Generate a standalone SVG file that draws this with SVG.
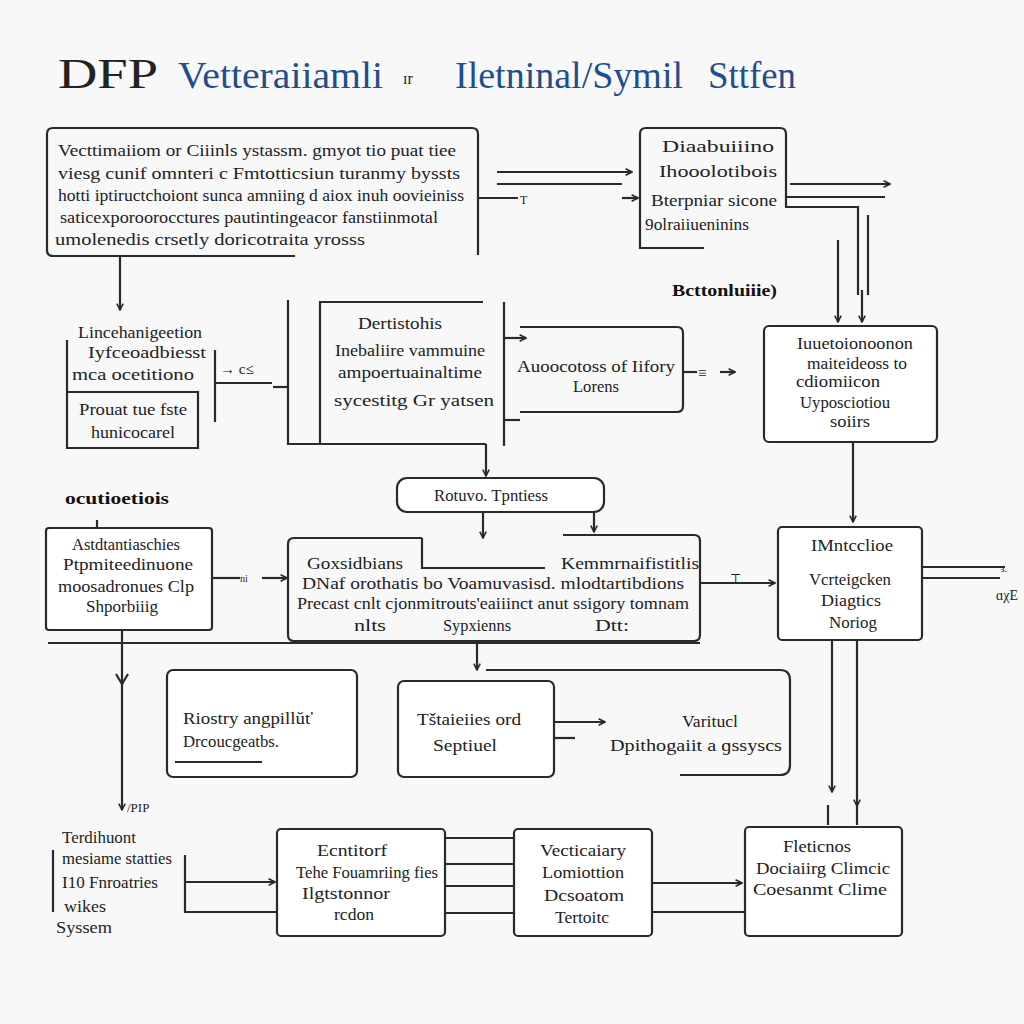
<svg xmlns="http://www.w3.org/2000/svg" width="1024" height="1024" viewBox="0 0 1024 1024">
<defs>
<marker id="ah" viewBox="0 0 10 10" refX="9" refY="5" markerWidth="8" markerHeight="8" orient="auto-start-reverse" markerUnits="userSpaceOnUse">
<path d="M1,1 L9,5 L1,9" fill="none" stroke="#2a2a2a" stroke-width="2"/>
</marker>
<style>
.b{fill:#fff;stroke:#2a2a2a;stroke-width:2.2}
.l{fill:none;stroke:#2a2a2a;stroke-width:2.2}
.a{fill:none;stroke:#2a2a2a;stroke-width:2.2;marker-end:url(#ah)}
.t{font-family:"Liberation Serif","DejaVu Serif",serif;font-size:16px;fill:#222}
.c{text-anchor:middle}
.h{font-family:"Liberation Serif","DejaVu Serif",serif;font-size:17px;font-weight:bold;fill:#111}
.ti{font-family:"Liberation Serif","DejaVu Serif",serif;font-size:38px;fill:#1f4e8c}
</style>
</defs>
<rect width="1024" height="1024" fill="#f8f8f8"/>
<g id="title">
<text x="58" y="88" class="ti" style="fill:#222;font-size:42px" textLength="100" lengthAdjust="spacingAndGlyphs">DFP</text>
<text x="178" y="88" class="ti" textLength="205" lengthAdjust="spacingAndGlyphs">Vetteraiiamli</text>
<text x="403" y="84" class="ti" style="fill:#222;font-size:16px">ɪr</text>
<text x="455" y="88" class="ti" textLength="228" lengthAdjust="spacingAndGlyphs">Iletninal/Symil</text>
<text x="708" y="88" class="ti" textLength="88" lengthAdjust="spacingAndGlyphs">Sttfen</text>
</g>
<g id="connectors">
<path class="a" d="M497,172 H632"/>
<path class="l" d="M497,184 H622"/>
<path class="l" d="M478,198 H518"/>
<path class="a" d="M622,198 H638"/>
<path class="a" d="M790,184 H890"/>
<path class="l" d="M785,197 H885"/>
<path class="l" d="M785,207 H858 V295"/>
<path class="l" d="M868,215 V295"/>
<path class="a" d="M838,240 V322"/>
<path class="a" d="M862,290 V322"/>
<path class="a" d="M120,256 V310"/>
<path class="l" d="M215,350 V422"/>
<path class="l" d="M215,383 H272"/>
<path class="l" d="M273,387 H288"/>
<path class="l" d="M288,300 V444 H486"/>
<path class="a" d="M486,444 V476"/>
<path class="l" d="M504,302 V446"/>
<path class="a" d="M504,338 H526"/>
<path class="l" d="M504,420 H520"/>
<path class="l" d="M683,372 H697"/>
<path class="a" d="M720,372 H735"/>
<path class="a" d="M853,442 V522"/>
<path class="a" d="M483,512 V538"/>
<path class="a" d="M594,512 V532"/>
<path class="l" d="M97,520 V528"/>
<path class="l" d="M212,578 H240"/>
<path class="a" d="M262,578 H287"/>
<path class="a" d="M700,583 H775"/>
<path class="l" d="M922,567 H1005"/>
<path class="l" d="M922,578 H1000"/>
<path class="l" d="M48,643 H700"/>
<path class="a" d="M122,630 V810"/>
<path class="l" d="M116,674 L122,684 L128,674"/>
<path class="a" d="M477,643 V670"/>
<path class="a" d="M832,640 V792"/>
<path class="a" d="M857,640 V806"/>
<path class="l" d="M828,805 V825"/>
<path class="l" d="M857,805 V825"/>
<path class="a" d="M554,722 H605"/>
<path class="l" d="M554,738 H575"/>
<path class="l" d="M53,850 V912"/>
<path class="l" d="M185,855 V912 H277"/>
<path class="a" d="M185,882 H275"/>
<path class="l" d="M445,838 H514"/>
<path class="l" d="M445,864 H514"/>
<path class="l" d="M445,886 H514"/>
<path class="l" d="M445,913 H514"/>
<path class="a" d="M652,883 H742"/>
<path class="l" d="M652,912 H745"/>
<text x="520" y="204" class="t" style="font-size:12px">T</text>
<text x="220" y="374" class="t" style="font-size:15px">→ c≤</text>
<text x="698" y="378" class="t" style="font-size:15px">≡</text>
<text x="240" y="582" class="t" style="font-size:10px">ni</text>
<text x="730" y="582" class="t" style="font-size:12px">⊤</text>
<text x="1000" y="572" class="t" style="font-size:11px">ɜ.</text>
<text x="996" y="600" class="t" style="font-size:14px">ɑχE</text>
<text x="127" y="812" class="t" style="font-size:13px">/PIP</text>
</g>
<g id="n1">
<path class="l" d="M295,256 H53 Q47,256 47,250 V134 Q47,128 53,128 H472 Q478,128 478,134 V255" fill="#fff"/>
<text x="58" y="156" class="t" textLength="398" lengthAdjust="spacingAndGlyphs">Vecttimaiiom or Ciiinls ystassm. gmyot tio puat tiee</text>
<text x="58" y="179" class="t" textLength="402" lengthAdjust="spacingAndGlyphs">viesg cunif omnteri c Fmtotticsiun turanmy byssts</text>
<text x="58" y="201" class="t" textLength="406" lengthAdjust="spacingAndGlyphs">hotti iptiructchoiont sunca amniing d aiox inuh oovieiniss</text>
<text x="60" y="223" class="t" textLength="378" lengthAdjust="spacingAndGlyphs">saticexporoorocctures pautintingeacor fanstiinmotal</text>
<text x="55" y="245" class="t" textLength="310" lengthAdjust="spacingAndGlyphs">umolenedis crsetly doricotraita yrosss</text>
</g>
<g id="n2">
<path class="l" d="M704,248 H640 V134 Q640,128 646,128 H780 Q786,128 786,134 V207"/>
<text x="718" y="152" class="t c" textLength="112" lengthAdjust="spacingAndGlyphs">Diaabuiiino</text>
<text x="718" y="177" class="t c" textLength="118" lengthAdjust="spacingAndGlyphs">Ihooolotibois</text>
<text x="714" y="206" class="t c" textLength="126" lengthAdjust="spacingAndGlyphs">Bterpniar sicone</text>
<text x="697" y="230" class="t c" textLength="104" lengthAdjust="spacingAndGlyphs">9olraiiueninins</text>
</g>
<g id="lbl1">
<text x="672" y="296" class="h" textLength="105" lengthAdjust="spacingAndGlyphs">Bcttonluiiie)</text>
</g>
<g id="n3">
<path class="l" d="M67,340 V448 H198 V392 H67"/>
<text x="140" y="338" class="t c" textLength="124" lengthAdjust="spacingAndGlyphs">Lincehanigeetion</text>
<text x="147" y="358" class="t c" textLength="118" lengthAdjust="spacingAndGlyphs">Iyfceoadbiesst</text>
<text x="133" y="380" class="t c" textLength="122" lengthAdjust="spacingAndGlyphs">mca ocetitiono</text>
<text x="133" y="415" class="t c" textLength="108" lengthAdjust="spacingAndGlyphs">Prouat tue fste</text>
<text x="133" y="438" class="t c" textLength="84" lengthAdjust="spacingAndGlyphs">hunicocarel</text>
</g>
<g id="n4">
<path class="l" d="M483,302 H320 V444"/>
<text x="400" y="329" class="t c" textLength="84" lengthAdjust="spacingAndGlyphs">Dertistohis</text>
<text x="410" y="356" class="t c" textLength="150" lengthAdjust="spacingAndGlyphs">Inebaliire vammuine</text>
<text x="410" y="378" class="t c" textLength="144" lengthAdjust="spacingAndGlyphs">ampoertuainaltime</text>
<text x="414" y="406" class="t c" textLength="160" lengthAdjust="spacingAndGlyphs">sycestitg Gr yatsen</text>
</g>
<g id="n5">
<path class="l" d="M520,327 H677 Q683,327 683,333 V406 Q683,412 677,412 H520"/>
<text x="596" y="372" class="t c" textLength="158" lengthAdjust="spacingAndGlyphs">Auoocotoss of Iifory</text>
<text x="596" y="392" class="t c" textLength="46" lengthAdjust="spacingAndGlyphs">Lorens</text>
</g>
<g id="n6">
<rect x="764" y="326" width="173" height="116" rx="5" class="b"/>
<text x="855" y="349" class="t c" textLength="116" lengthAdjust="spacingAndGlyphs">Iuuetoionoonon</text>
<text x="857" y="369" class="t c" textLength="100" lengthAdjust="spacingAndGlyphs">maiteideoss to</text>
<text x="838" y="387" class="t c" textLength="84" lengthAdjust="spacingAndGlyphs">cdiomiicon</text>
<text x="845" y="408" class="t c" textLength="90" lengthAdjust="spacingAndGlyphs">Uyposciotiou</text>
<text x="850" y="427" class="t c" textLength="40" lengthAdjust="spacingAndGlyphs">soiirs</text>
</g>
<g id="lbl2">
<text x="65" y="504" class="h" textLength="104" lengthAdjust="spacingAndGlyphs">ocutioetiois</text>
</g>
<g id="n7">
<rect x="397" y="478" width="207" height="34" rx="10" class="b"/>
<text x="491" y="501" class="t c" textLength="114" lengthAdjust="spacingAndGlyphs">Rotuvo. Tpntiess</text>
</g>
<g id="n8">
<rect x="46" y="528" width="166" height="102" rx="3" class="b"/>
<text x="126" y="550" class="t c" textLength="108" lengthAdjust="spacingAndGlyphs">Astdtantiaschies</text>
<text x="128" y="570" class="t c" textLength="130" lengthAdjust="spacingAndGlyphs">Ptpmiteedinuone</text>
<text x="126" y="592" class="t c" textLength="136" lengthAdjust="spacingAndGlyphs">moosadronues Clp</text>
<text x="122" y="612" class="t c" textLength="72" lengthAdjust="spacingAndGlyphs">Shporbiiig</text>
</g>
<g id="n9">
<path class="l" d="M422,538 H294 Q288,538 288,544 V635 Q288,641 294,641 H694 Q700,641 700,635 V541 Q700,535 694,535 H563"/>
<path class="l" d="M422,538 V568 H545"/>
<text x="355" y="569" class="t c" textLength="96" lengthAdjust="spacingAndGlyphs">Goxsidbians</text>
<text x="630" y="569" class="t c" textLength="138" lengthAdjust="spacingAndGlyphs">Kemmrnaifistitlis</text>
<text x="493" y="589" class="t c" textLength="382" lengthAdjust="spacingAndGlyphs">DNaf orothatis bo Voamuvasisd.  mlodtartibdions</text>
<text x="493" y="609" class="t c" textLength="392" lengthAdjust="spacingAndGlyphs">Precast cnlt cjonmitrouts'eaiiinct anut ssigory tomnam</text>
<text x="370" y="631" class="t c" textLength="32" lengthAdjust="spacingAndGlyphs">nlts</text>
<text x="477" y="631" class="t c" textLength="68" lengthAdjust="spacingAndGlyphs">Sypxienns</text>
<text x="612" y="631" class="t c" textLength="34" lengthAdjust="spacingAndGlyphs">Dtt:</text>
</g>
<g id="n10">
<rect x="778" y="527" width="144" height="113" rx="4" class="b"/>
<text x="852" y="551" class="t c" textLength="82" lengthAdjust="spacingAndGlyphs">IMntcclioe</text>
<text x="850" y="585" class="t c" textLength="82" lengthAdjust="spacingAndGlyphs">Vcrteigcken</text>
<text x="851" y="606" class="t c" textLength="60" lengthAdjust="spacingAndGlyphs">Diagtics</text>
<text x="853" y="628" class="t c" textLength="48" lengthAdjust="spacingAndGlyphs">Noriog</text>
</g>
<g id="n11">
<rect x="167" y="670" width="190" height="107" rx="6" class="b"/>
<text x="183" y="724" class="t" textLength="130" lengthAdjust="spacingAndGlyphs">Riostry angpillŭť</text>
<text x="183" y="747" class="t" textLength="96" lengthAdjust="spacingAndGlyphs">Drcoucgeatbs.</text>
<path class="l" d="M175,762 H262"/>
</g>
<g id="n12">
<rect x="398" y="681" width="156" height="96" rx="6" class="b"/>
<text x="469" y="725" class="t c" textLength="104" lengthAdjust="spacingAndGlyphs">Tštaieiies ord</text>
<text x="465" y="751" class="t c" textLength="64" lengthAdjust="spacingAndGlyphs">Septiuel</text>
</g>
<g id="n13">
<path class="l" d="M486,670 H780 Q790,670 790,680 V765 Q790,775 780,775 H680"/>
<text x="710" y="727" class="t c" textLength="56" lengthAdjust="spacingAndGlyphs">Varitucl</text>
<text x="696" y="751" class="t c" textLength="172" lengthAdjust="spacingAndGlyphs">Dpithogaiit a ɡssyscs</text>
</g>
<g id="n14">
<text x="62" y="843" class="t" textLength="74" lengthAdjust="spacingAndGlyphs">Terdihuont</text>
<text x="62" y="864" class="t" textLength="110" lengthAdjust="spacingAndGlyphs">mesiame statties</text>
<text x="62" y="888" class="t" textLength="96" lengthAdjust="spacingAndGlyphs">I10 Fnroatries</text>
<text x="64" y="912" class="t" textLength="42" lengthAdjust="spacingAndGlyphs">wikes</text>
<text x="56" y="933" class="t" textLength="56" lengthAdjust="spacingAndGlyphs">Syssem</text>
</g>
<g id="n15">
<rect x="277" y="829" width="168" height="107" rx="4" class="b"/>
<text x="352" y="856" class="t c" textLength="70" lengthAdjust="spacingAndGlyphs">Ecntitorf</text>
<text x="367" y="878" class="t c" textLength="142" lengthAdjust="spacingAndGlyphs">Tehe Fouamriing fies</text>
<text x="346" y="899" class="t c" textLength="88" lengthAdjust="spacingAndGlyphs">Ilgtstonnor</text>
<text x="354" y="920" class="t c" textLength="40" lengthAdjust="spacingAndGlyphs">rcdon</text>
</g>
<g id="n16">
<rect x="514" y="829" width="138" height="107" rx="4" class="b"/>
<text x="583" y="856" class="t c" textLength="86" lengthAdjust="spacingAndGlyphs">Vecticaiary</text>
<text x="583" y="878" class="t c" textLength="82" lengthAdjust="spacingAndGlyphs">Lomiottion</text>
<text x="584" y="901" class="t c" textLength="80" lengthAdjust="spacingAndGlyphs">Dcsoatom</text>
<text x="582" y="923" class="t c" textLength="54" lengthAdjust="spacingAndGlyphs">Tertoitc</text>
</g>
<g id="n17">
<rect x="745" y="827" width="157" height="109" rx="4" class="b"/>
<text x="817" y="852" class="t c" textLength="68" lengthAdjust="spacingAndGlyphs">Fleticnos</text>
<text x="823" y="874" class="t c" textLength="134" lengthAdjust="spacingAndGlyphs">Dociaiirg Climcic</text>
<text x="820" y="895" class="t c" textLength="134" lengthAdjust="spacingAndGlyphs">Coesanmt Clime</text>
</g>
</svg>
